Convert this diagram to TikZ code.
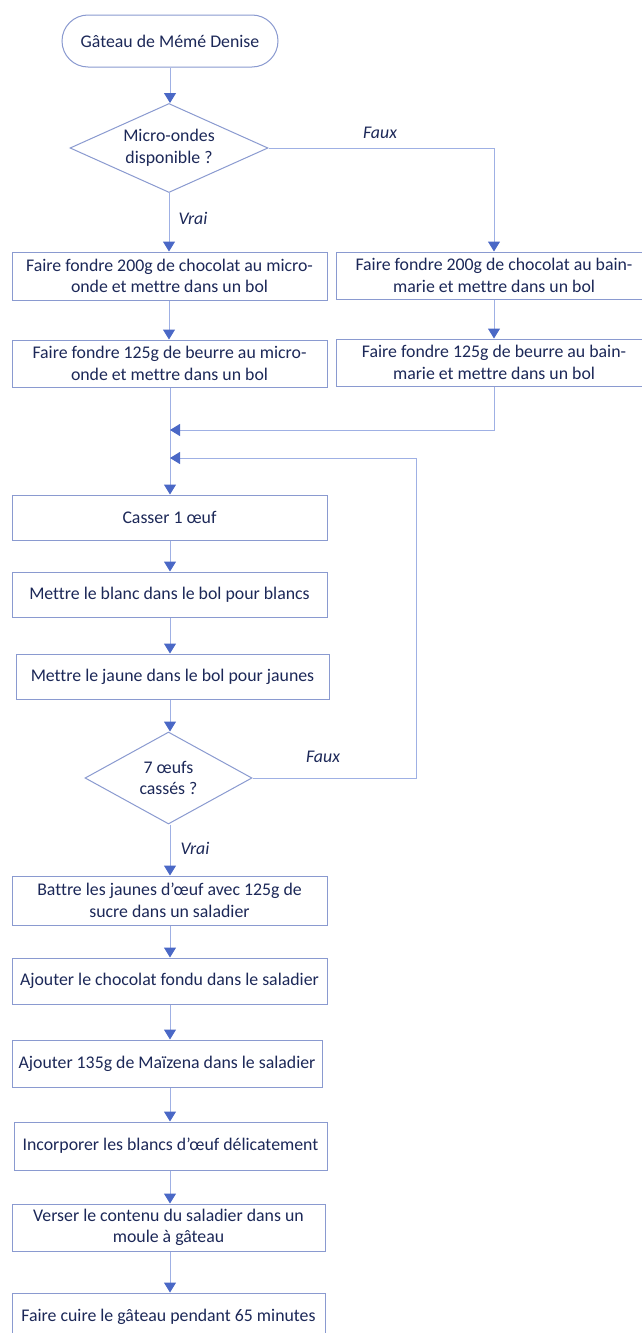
\documentclass[tikz,border=0pt]{standalone}
\usepackage{fontspec}
\setmainfont{Carlito}[Ligatures=NoCommon]
\usetikzlibrary{shapes.geometric,arrows.meta}
\definecolor{boxline}{HTML}{8A9AD0}
\definecolor{linkline}{HTML}{9FB0E4}
\definecolor{headfill}{HTML}{4A68C6}
\definecolor{ink}{HTML}{1C2858}
\tikzset{
  base/.style={font=\fontsize{17.8}{21.5}\selectfont, text=ink},
  stepbox/.style={base, draw=boxline, line width=1pt, rectangle,
    minimum width=315, minimum height=47, align=center, inner sep=0pt},
  terminal/.style={base, draw=boxline, line width=1pt, rectangle, rounded corners=26,
    minimum width=216, minimum height=52, inner sep=0pt},
  test/.style={base, draw=boxline, line width=1pt, diamond, aspect=2.2,
    align=center, inner sep=0pt},
  link/.style={draw=linkline, line width=1pt,
    -{Triangle[width=12pt,length=10pt,fill=headfill,color=headfill]}},
  branch/.style={base, font=\fontsize{17.8}{21}\selectfont\itshape}
}
\begin{document}
\begin{tikzpicture}[x=1pt,y=-1pt]
\useasboundingbox (0,0) rectangle (641,1333);
\fill[white] (0,0) rectangle (641,1333);

% start and first test
\node[terminal] (start) at (170,41) {Gâteau de Mémé Denise};
\node[test, minimum width=198, minimum height=89] (micro) at (169,148) {Micro-ondes\\disponible ?};

% microwave branch
\node[stepbox, minimum height=48] (choc1) at (169.5,276) {Faire fondre 200g de chocolat au micro-\\onde et mettre dans un bol};
\node[stepbox] (beur1) at (169.5,363.5) {Faire fondre 125g de beurre au micro-\\onde et mettre dans un bol};

% bain-marie branch
\node[stepbox] (choc2) at (494,275.5) {Faire fondre 200g de chocolat au bain-\\marie et mettre dans un bol};
\node[stepbox] (beur2) at (494,362.5) {Faire fondre 125g de beurre au bain-\\marie et mettre dans un bol};

% egg loop
\node[stepbox, minimum height=45] (casser) at (169.5,517.5) {Casser 1 œuf};
\node[stepbox, minimum height=45] (blanc) at (169.5,594.5) {Mettre le blanc dans le bol pour blancs};
\node[stepbox, minimum height=45, minimum width=313] (jaune) at (172.5,676.5) {Mettre le jaune dans le bol pour jaunes};
\node[test, minimum width=167, minimum height=92] (oeufs) at (168.5,778) {7 œufs\\cassés ?};

% final steps
\node[stepbox, minimum height=49] (battre) at (169.5,900.5) {Battre les jaunes d’œuf avec 125g de\\sucre dans un saladier};
\node[stepbox, minimum height=46] (ajchoc) at (169.5,981) {Ajouter le chocolat fondu dans le saladier};
\node[stepbox, minimum width=310] (maizena) at (167,1063.5) {Ajouter 135g de Maïzena dans le saladier};
\node[stepbox, minimum width=313, minimum height=48] (incorp) at (170.5,1146) {Incorporer les blancs d’œuf délicatement};
\node[stepbox, minimum width=313] (verser) at (168.5,1227.5) {Verser le contenu du saladier dans un\\moule à gâteau};
\node[stepbox, minimum width=313, minimum height=48] (cuire) at (168.5,1317) {Faire cuire le gâteau pendant 65 minutes};

% branch labels
\node[branch] (faux1) at (380,133) {Faux};
\node[branch] (vrai1) at (193,218) {Vrai};
\node[branch] (faux2) at (323,757) {Faux};
\node[branch] (vrai2) at (195,848) {Vrai};

% junction points
\coordinate (join1) at (170,430);
\coordinate (join2) at (170,458);
\coordinate (back) at (416,458);

% connectors
\draw[link] (start.south) -- (start.south |- micro.north);
\draw[link] (micro.south) -- (micro.south |- choc1.north);
\draw[link] (micro.east) -| (choc2.north);
\draw[link] (choc1.south -| micro.south) -- (micro.south |- beur1.north);
\draw[link] (choc2.south) -- (beur2.north);
\draw[link] (beur1.south -| join1) -- (join1 |- casser.north);
\draw[link] (beur2.south) |- (join1);
\draw[link] (oeufs.east) -| (back) -- (join2);
\draw[link] (casser.south -| join1) -- (join1 |- blanc.north);
\draw[link] (blanc.south -| join1) -- (join1 |- jaune.north);
\draw[link] (jaune.south -| join1) -- (join1 |- oeufs.north);
\draw[link] (oeufs.south -| join1) -- (join1 |- battre.north);
\draw[link] (battre.south -| join1) -- (join1 |- ajchoc.north);
\draw[link] (ajchoc.south -| join1) -- (join1 |- maizena.north);
\draw[link] (maizena.south -| join1) -- (join1 |- incorp.north);
\draw[link] (incorp.south -| join1) -- (join1 |- verser.north);
\draw[link] (verser.south -| join1) -- (join1 |- cuire.north);
\end{tikzpicture}
\end{document}
